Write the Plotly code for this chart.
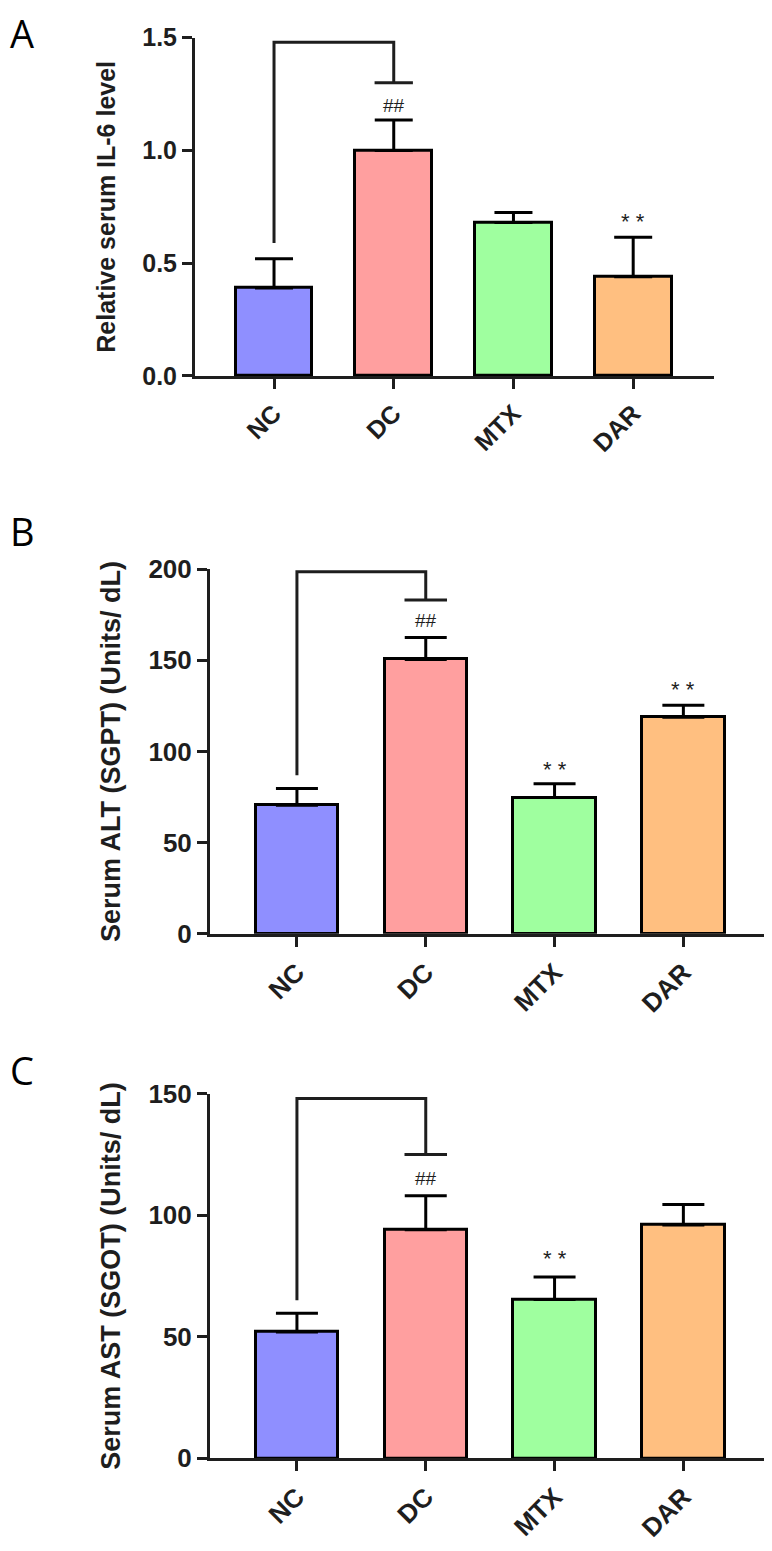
import plotly.graph_objects as go

#%% data (mean + upper SD)
groups = ['NC', 'DC', 'MTX', 'DAR']
bar_colors = ['#8f8fff', '#ff9f9f', '#9fff9f', '#ffbf80']

il6_mean = [0.39, 1.00, 0.68, 0.44]
il6_err = [0.13, 0.135, 0.045, 0.175]

alt_mean = [70.5, 150.5, 74.7, 118.8]
alt_err = [9.2, 12.0, 7.6, 6.5]

ast_mean = [52.0, 94.0, 65.3, 96.0]
ast_err = [7.7, 14.0, 9.3, 8.4]

# bracket NC -> DC: [start above NC, top line, end above DC]
il6_bracket = [0.59, 1.48, 1.30]
alt_bracket = [87, 198.5, 183]
ast_bracket = [65, 148, 125]

# "##" above DC, "**" marks (group index, level)
il6_hash = 1.2
alt_hash = 172
ast_hash = 115
il6_stars = [(3, 0.70)]
alt_stars = [(2, 91.5), (3, 135.5)]
ast_stars = [(2, 83.5)]

titles = ['Relative serum IL-6 level',
          'Serum ALT (SGPT) (Units/ dL)',
          'Serum AST (SGOT) (Units/ dL)']
letters = ['A', 'B', 'C']

#%% figure
# page body keeps its 8px margin, so the figure is 16px smaller than the window
W, H = 756, 1535
ink = '#1e1e1e'
font_main = 'Liberation Sans, Arial, sans-serif'

# panel boxes in figure pixels: left, right, top, bottom
boxes = [(187, 706, 15, 360), (202, 756, 557, 929), (202, 756, 1092, 1464)]
xranges = [[-0.66, 3.675], [-0.675, 3.626], [-0.675, 3.626]]
yranges = [[0, 1.5], [0, 200], [0, 150]]
dticks = [0.5, 50, 50]
tickfmt = ['.1f', 'd', 'd']
tick_sizes = [25, 26, 26]
title_sizes = [25, 27, 27]
letter_mid = [10, 518, 1068]
cap_w = [19, 21, 21]
cap_half = [0.16, 0.165, 0.165]

panels = [
    (il6_mean, il6_err, il6_bracket, il6_hash, il6_stars),
    (alt_mean, alt_err, alt_bracket, alt_hash, alt_stars),
    (ast_mean, ast_err, ast_bracket, ast_hash, ast_stars),
]

fig = go.Figure()
annotations = []
layout = {}

for i, (mean, err, bracket, hash_y, stars) in enumerate(panels):
    n = '' if i == 0 else str(i + 1)
    xa, ya = 'x' + n, 'y' + n
    xpos = list(range(len(groups)))

    fig.add_trace(go.Bar(
        x=xpos, y=mean, xaxis=xa, yaxis=ya,
        width=0.64,
        marker=dict(color=bar_colors, line=dict(color='black', width=3)),
        error_y=dict(type='data', symmetric=False, array=err,
                     arrayminus=[0] * len(err), color='black',
                     thickness=3, width=cap_w[i]),
        showlegend=False,
    ))

    # bracket between NC and DC
    fig.add_trace(go.Scatter(
        x=[0, 0, 1, 1], y=[bracket[0], bracket[1], bracket[1], bracket[2]],
        xaxis=xa, yaxis=ya, mode='lines',
        line=dict(color=ink, width=3), showlegend=False, hoverinfo='skip'))
    fig.add_trace(go.Scatter(
        x=[1 - cap_half[i], 1 + cap_half[i]], y=[bracket[2], bracket[2]],
        xaxis=xa, yaxis=ya, mode='lines',
        line=dict(color=ink, width=3), showlegend=False, hoverinfo='skip'))

    annotations.append(dict(
        x=1, y=hash_y, xref=xa, yref=ya, text='##', showarrow=False,
        font=dict(family=font_main, size=19, color=ink), yanchor='middle'))
    for gi, sy in stars:
        annotations.append(dict(
            x=gi, y=sy, xref=xa, yref=ya, text='* *', showarrow=False,
            font=dict(family=font_main, size=22, color=ink),
            yanchor='middle', yshift=-3))

    l, r, t, b = boxes[i]
    layout['xaxis' + n] = dict(
        domain=[l / W, r / W], anchor=ya, range=xranges[i],
        tickmode='array', tickvals=xpos, ticktext=groups, tickangle=-45,
        showline=True, linecolor=ink, linewidth=3,
        ticks='outside', ticklen=10, tickwidth=3, tickcolor=ink,
        showgrid=False, zeroline=False, fixedrange=True,
        tickfont=dict(family=font_main, size=tick_sizes[i], color=ink,
                      weight='bold'))
    layout['yaxis' + n] = dict(
        domain=[1 - b / H, 1 - t / H], anchor=xa, range=yranges[i],
        dtick=dticks[i], tick0=0, tickformat=tickfmt[i],
        showline=True, linecolor=ink, linewidth=3,
        ticks='outside', ticklen=10, tickwidth=3, tickcolor=ink,
        showgrid=False, zeroline=False, fixedrange=True,
        tickfont=dict(family=font_main, size=tick_sizes[i], color=ink,
                      weight='bold'),
        title=dict(text=titles[i], standoff=20,
                   font=dict(family=font_main, size=title_sizes[i],
                             color=ink, weight='bold')))

    annotations.append(dict(
        x=0, y=1 - letter_mid[i] / H, xref='paper', yref='paper',
        xanchor='left', yanchor='middle', text=letters[i], showarrow=False,
        font=dict(family='Open Sans, sans-serif', size=38, color='black')))

fig.update_layout(
    width=W, height=H,
    margin=dict(l=0, r=0, t=0, b=0),
    paper_bgcolor='white', plot_bgcolor='white',
    bargap=0, showlegend=False,
    annotations=annotations,
    **layout)

fig.write_html('out.html')
